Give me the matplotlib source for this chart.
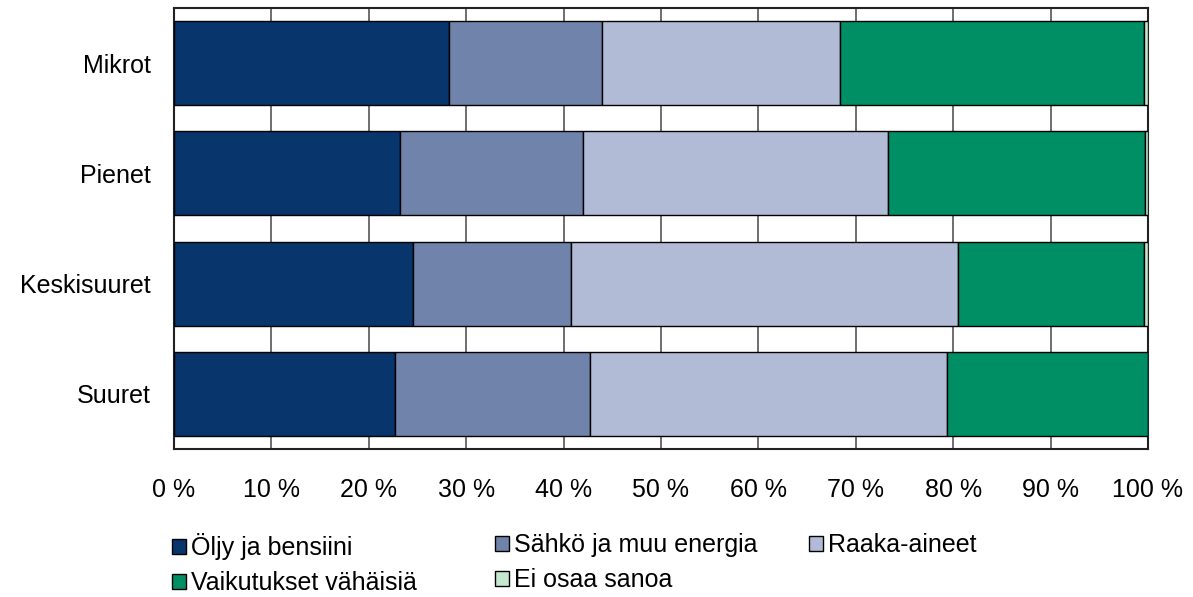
import matplotlib
matplotlib.use("Agg")
import matplotlib.pyplot as plt
from matplotlib.patches import Patch
import numpy as np

plt.rcParams['font.family'] = ['Liberation Sans', 'DejaVu Sans']

categories = ["Mikrot", "Pienet", "Keskisuuret", "Suuret"]
series_names = ["Öljy ja bensiini", "Sähkö ja muu energia", "Raaka-aineet",
                "Vaikutukset vähäisiä", "Ei osaa sanoa"]
oljy = [28.2, 23.2, 24.5, 22.7]
sahko = [15.7, 18.8, 16.3, 20.0]
raaka = [24.5, 31.3, 39.7, 36.7]
vaikutukset = [31.2, 26.4, 19.1, 20.6]
ei_osaa = [0.4, 0.3, 0.4, 0.0]
colors = ["#08356B", "#6F83AB", "#B2BBD5", "#008F65", "#C6E8CF"]
xticks = [0, 10, 20, 30, 40, 50, 60, 70, 80, 90, 100]
xticklabels = [f"{v} %" for v in xticks]

FS = 18

fig = plt.figure(figsize=(11.93, 5.97), dpi=100)
ax = fig.add_axes([174/1193, 1-449/597, (1148-174)/1193, (449-8)/597])

y = np.arange(len(categories))
left = np.zeros(len(categories))
for vals, col, name in zip([oljy, sahko, raaka, vaikutukset, ei_osaa], colors, series_names):
    ax.barh(y, vals, left=left, height=0.76, color=col, edgecolor="black",
            linewidth=1.0, label=name, zorder=3)
    left += np.array(vals)

ax.set_xlim(0, 100)
ax.set_ylim(3.5, -0.5)
ax.set_xticks(xticks)
ax.set_xticklabels(xticklabels, fontsize=FS)
ax.set_yticks(y)
ax.set_yticklabels(categories, fontsize=FS)
ax.tick_params(axis='both', length=0)
ax.tick_params(axis='y', pad=17)
ax.tick_params(axis='x', pad=21)
ax.xaxis.grid(True, color="#555555", linewidth=1.2, zorder=0)
ax.set_axisbelow(True)
for s in ax.spines.values():
    s.set_color("#222222")
    s.set_linewidth(1.5)

handles = [Patch(facecolor=c, edgecolor="black", linewidth=1.0) for c in colors]
cols = [(0, 3), (1, 4), (2,)]
xs = [172, 495, 809]
for xpos, idx in zip(xs, cols):
    leg = fig.legend([handles[i] for i in idx], [series_names[i] for i in idx],
                     loc="upper left", bbox_to_anchor=(xpos/1193, 1-533/597),
                     frameon=False, fontsize=FS, handlelength=0.55, handleheight=0.55,
                     handletextpad=0.2, labelspacing=0.45, borderaxespad=0, borderpad=0)

fig.savefig("out.png", dpi=100)
